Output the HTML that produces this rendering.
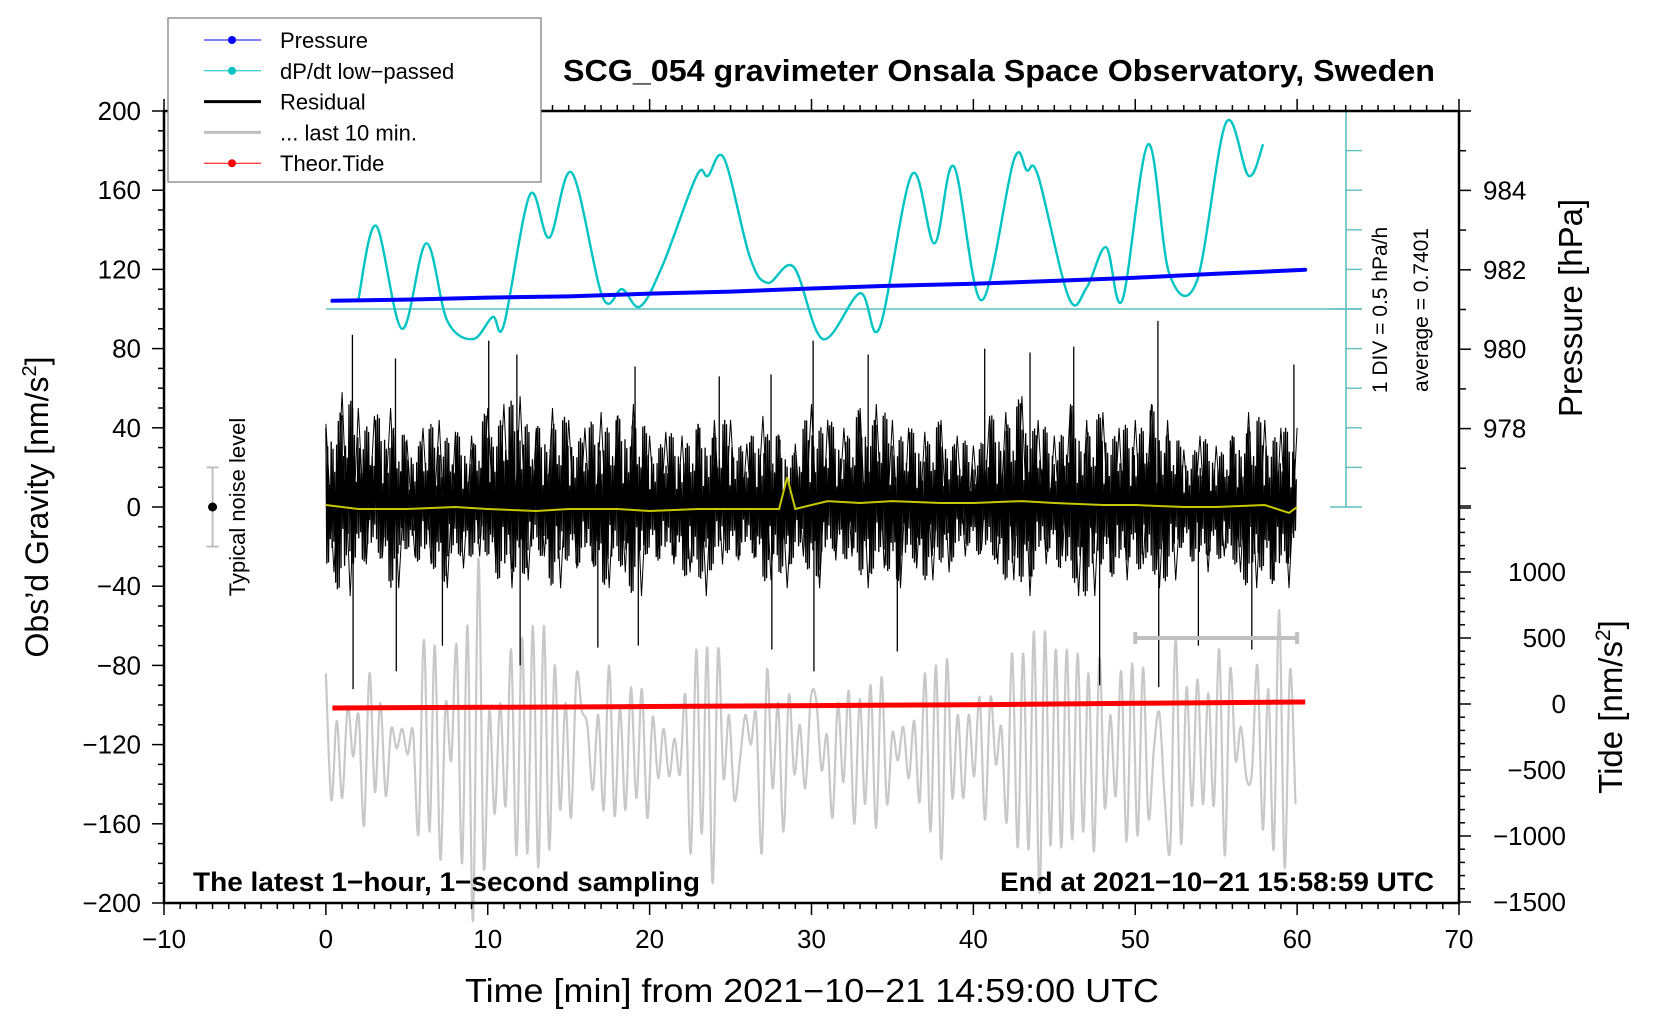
<!DOCTYPE html>
<html><head><meta charset="utf-8">
<style>
html,body{margin:0;padding:0;background:#fff;}
svg{display:block;font-family:"Liberation Sans",Arial,sans-serif;}
</style></head>
<body>
<svg id="chart" width="1660" height="1020" viewBox="0 0 1660 1020" xmlns="http://www.w3.org/2000/svg">
<g id="layer"></g>
</svg>
<script>
// ---- data ----
const cyanTimes = [2.0,3.1,4.7,6.2,7.5,9.1,10.3,11.0,12.6,13.8,15.2,17.1,18.3,19.4,20.8,22.9,23.6,24.6,26.2,27.3,28.9,30.7,33.0,34.2,36.2,37.6,38.8,40.5,42.5,43.3,44.0,45.9,47.0,48.2,49.2,50.8,52.1,53.8,55.6,57.0,57.9];
const cyanValues = [0.11,1.05,-0.25,0.83,-0.15,-0.38,-0.10,-0.20,1.44,0.90,1.72,0.15,0.25,0.03,0.55,1.68,1.68,1.90,0.65,0.33,0.53,-0.38,0.20,-0.24,1.70,0.83,1.80,0.11,1.88,1.75,1.68,0.14,0.27,0.78,0.11,2.08,0.45,0.35,2.35,1.68,2.08];
const pressureTimes = [0.4,5,10,15,20,25,30,35,40,45,50,55,60.5];
const pressureValues = [981.22,981.25,981.3,981.33,981.4,981.45,981.53,981.6,981.65,981.72,981.8,981.9,982.0];
const residualHi = [42,58,50,46,50,34,40,44,38,36,50,52,56,40,50,44,40,48,46,52,36,38,36,42,44,44,32,46,36,32,52,44,40,50,52,44,40,38,44,36,31,46,48,56,44,36,52,44,48,40,44,52,44,29,36,31,36,48,44,40,40];
const residualLo = [-33,-45,-29,-25,-41,-25,-29,-41,-31,-25,-29,-41,-37,-25,-41,-31,-29,-41,-33,-45,-25,-29,-33,-45,-29,-27,-25,-37,-41,-25,-41,-27,-25,-41,-31,-41,-31,-37,-33,-25,-22,-29,-37,-45,-29,-25,-45,-45,-33,-37,-29,-41,-37,-22,-33,-25,-33,-41,-37,-41,-25];
const spikeTimes = [1.64,1.68,4.3,4.35,7.2,10.06,11.8,12.0,16.8,19.1,19.3,24.3,27.5,27.55,30.1,30.15,33.5,35.3,40.7,43.5,46.2,47.8,51.4,51.45,53.9,57.2,59.8];
const spikeValues = [87,-92,75,-83,-70,84,77,-80,-71,71,-70,66,67,-72,84,-83,77,-73,80,78,81,-90,94,-91,-70,-72,72];
const yellowTimes = [0,2,5,8,10,13,15,18,20,23,25,28,28.5,29,30,31,33,35,38,40,43,45,48,50,53,55,58,59.5,60];
const yellowValues = [1,-1,-1,0,-1,-2,-1,-1,-2,-1,-1,-1,15,-1,1,3,2,3,2,2,3,2,1,1,0,0,1,-3,0];
const grayValues = [-84,-148,-108,-147,-101,-126,-105,-161,-84,-144,-99,-146,-112,-122,-112,-125,-113,-165,-67,-164,-70,-178,-99,-128,-70,-180,-60,-209,-26,-182,-103,-155,-99,-151,-72,-176,-66,-175,-60,-182,-60,-173,-80,-153,-99,-157,-85,-103,-110,-143,-105,-153,-80,-156,-101,-153,-91,-147,-92,-157,-106,-137,-112,-136,-117,-135,-95,-175,-72,-165,-71,-190,-72,-137,-105,-148,-128,-105,-120,-105,-175,-82,-142,-99,-164,-95,-135,-110,-142,-97,
 -97,-133,-115,-157,-99,-139,-93,-160,-97,-150,-90,-162,-86,-150,-114,-128,-111,-137,-108,-149,-84,-164,-80,-178,-77,-147,-105,-147,-105,-136,-96,-158,-96,-130,-111,-159,-74,-172,-74,-173,-63,-195,-63,-171,-72,-172,-72,-168,-74,-164,-84,-174,-76,-152,-105,-146,-83,-169,-79,-166,-81,-157,-122,-104,-148,-172,-67,-170,-91,-151,-87,-150,-94,-151,-72,-176,-82,-128,-111,-137,-134,-80,-163,-92,-173,-52,-182,-82,-150];
const tideTimes = [0.4,10,20,30,40,50,60.5];
const tideValues = [-30,-25,-19,-12,-5,5,15];
const xTicks = [-10,0,10,20,30,40,50,60,70];
const gTicks = [200,160,120,80,40,0,-40,-80,-120,-160,-200];
const pTicks = [984,982,980,978];
const tTicks = [1000,500,0,-500,-1000,-1500];

// ---- scales ----
const X0=164, X1=1459, Y0=111, Y1=903;
function sx(t){return X0+(t+10)*(X1-X0)/80;}
function sg(g){return 507-g*1.98;}
function sp(p){return 508-(p-976)*39.7;}
function st(v){return 704-v*0.132;}
function sc(v){return sg(100+v*40);}

const NS="http://www.w3.org/2000/svg";
const layer=document.getElementById('layer');
function mk(tag,attrs,parent){const e=document.createElementNS(NS,tag);for(const k in attrs)e.setAttribute(k,attrs[k]);(parent||layer).appendChild(e);return e;}
function txt(s,attrs){const e=mk('text',attrs);e.textContent=s;return e;}
function smooth(pts){let d='M'+pts[0][0]+','+pts[0][1];for(let i=0;i<pts.length-1;i++){const p0=pts[i-1]||pts[i],p1=pts[i],p2=pts[i+1],p3=pts[i+2]||p2;const c1x=p1[0]+(p2[0]-p0[0])/6,c1y=p1[1]+(p2[1]-p0[1])/6,c2x=p2[0]-(p3[0]-p1[0])/6,c2y=p2[1]-(p3[1]-p1[1])/6;d+=' C'+c1x.toFixed(1)+','+c1y.toFixed(1)+' '+c2x.toFixed(1)+','+c2y.toFixed(1)+' '+p2[0].toFixed(1)+','+p2[1].toFixed(1);}return d;}

// gray last 10 min
const gp=grayValues.map((v,i)=>[sx(i*59.9/(grayValues.length-1)),sg(v)]);
const grayLine=mk('path',{d:smooth(gp),fill:'none',stroke:'#c8c8c8','stroke-width':2.2});



// residual
const nRes=residualHi.length;
function envAt(arr,t){const i=Math.min(Math.floor(t),nRes-2);const f=t-i;return arr[i]*(1-f)+arr[i+1]*f;}
const fracs=[0.95,0.55,0.8,0.35,0.7,1.0,0.45,0.85,0.6,0.25];
const rg=mk('g',{});


let zz=[];
const step=0.055;
let k=0;
for(let t=0;t<=60.0001;t+=step,k++){
  const f=fracs[(k*7+Math.floor(k/3))%fracs.length];
  const v=(k%2===0)?envAt(residualHi,Math.min(t,60))*f:envAt(residualLo,Math.min(t,60))*f;
  zz.push(sx(t).toFixed(1)+','+sg(v).toFixed(1));
}
mk('polyline',{points:zz.join(' '),fill:'none',stroke:'#000','stroke-width':1.3},rg);
let zz2=[];
residualHi.forEach((v,i)=>{zz2.push(sx(i).toFixed(1)+','+sg(v).toFixed(1));if(i<nRes-1)zz2.push(sx(i+0.5).toFixed(1)+','+sg(residualLo[i]).toFixed(1));});
mk('polyline',{points:zz2.join(' '),fill:'none',stroke:'#000','stroke-width':1},rg);
spikeTimes.forEach((t,i)=>{const l=mk('line',{x1:sx(t),x2:sx(t),y1:sg(0),y2:sg(spikeValues[i]),stroke:'#000','stroke-width':1.3});

});

// yellow
const yl=mk('polyline',{points:yellowTimes.map((t,i)=>sx(t).toFixed(1)+','+sg(yellowValues[i]).toFixed(1)).join(' '),fill:'none',stroke:'#c8c800','stroke-width':2});



// tide red
const rl=mk('polyline',{points:tideTimes.map((t,i)=>sx(t).toFixed(1)+','+st(tideValues[i]).toFixed(1)).join(' '),fill:'none',stroke:'#ff0000','stroke-width':5});



// cyan baseline and axis
mk('line',{x1:sx(0),x2:1362,y1:sc(0),y2:sc(0),stroke:'#5fbfbf','stroke-width':1.6});
mk('line',{x1:1346,x2:1346,y1:Y0,y2:sg(0),stroke:'#5fbfbf','stroke-width':1.6});
for(let g=200;g>=0;g-=20){const w=(g===200||g===0||g===100)?16:0;mk('line',{x1:1346-w,x2:1362,y1:sg(g),y2:sg(g),stroke:'#5fbfbf','stroke-width':1.4});}
const cyl=mk('path',{d:smooth(cyanTimes.map((t,i)=>[sx(t),sc(cyanValues[i])])),fill:'none',stroke:'#00c4c4','stroke-width':2.4});



// pressure
const pl=mk('polyline',{points:pressureTimes.map((t,i)=>sx(t).toFixed(1)+','+sp(pressureValues[i]).toFixed(1)).join(' '),fill:'none',stroke:'#0000ff','stroke-width':4,'stroke-linecap':'round'});



// gray 10-min bar
mk('line',{x1:sx(50),x2:sx(60),y1:638,y2:638,stroke:'#c0c0c0','stroke-width':4});
mk('line',{x1:sx(50),x2:sx(50),y1:632,y2:644,stroke:'#c0c0c0','stroke-width':4});
mk('line',{x1:sx(60),x2:sx(60),y1:632,y2:644,stroke:'#c0c0c0','stroke-width':4});

// noise marker
mk('line',{x1:sx(-7),x2:sx(-7),y1:sg(20),y2:sg(-20),stroke:'#c0c0c0','stroke-width':2});
mk('line',{x1:sx(-7)-6,x2:sx(-7)+6,y1:sg(20),y2:sg(20),stroke:'#c0c0c0','stroke-width':2});
mk('line',{x1:sx(-7)-6,x2:sx(-7)+6,y1:sg(-20),y2:sg(-20),stroke:'#c0c0c0','stroke-width':2});
mk('circle',{cx:sx(-7),cy:sg(0),r:4.5,fill:'#000'});
txt('Typical noise level',{x:0,y:0,transform:'translate(245,507) rotate(-90)','text-anchor':'middle','font-size':22});

// frame
mk('rect',{x:X0,y:Y0,width:X1-X0,height:Y1-Y0,fill:'none',stroke:'#000','stroke-width':2.5});
for(let t=-10;t<=70;t++){const L=t%10===0?12:6;mk('line',{x1:sx(t),x2:sx(t),y1:Y1,y2:Y1+L,stroke:'#000','stroke-width':1.5});mk('line',{x1:sx(t),x2:sx(t),y1:Y0,y2:Y0-L,stroke:'#000','stroke-width':1.5});}
xTicks.forEach(t=>txt(String(t).replace('-','\u2212'),{x:sx(t),y:948,'text-anchor':'middle','font-size':26}));
for(let g=-200;g<=200;g+=10){const L=g%40===0?12:6;mk('line',{x1:X0-L,x2:X0,y1:sg(g),y2:sg(g),stroke:'#000','stroke-width':1.5});}
gTicks.forEach(g=>txt(String(g).replace('-','\u2212'),{x:141,y:sg(g)+9,'text-anchor':'end','font-size':26}));
for(let p=976;p<=986;p++){const L=p%2===0?12:7;mk('line',{x1:X1,x2:X1+L,y1:sp(p),y2:sp(p),stroke:'#000','stroke-width':1.5});}
pTicks.forEach(p=>txt(String(p),{x:1483,y:sp(p)+9,'font-size':26}));
for(let v=-1500;v<=1500;v+=100){const L=v%500===0?12:6;mk('line',{x1:X1,x2:X1+L,y1:st(v),y2:st(v),stroke:'#000','stroke-width':1.5});}
tTicks.forEach(v=>txt(String(v).replace('-','\u2212'),{x:1566,y:st(v)+9,'text-anchor':'end','font-size':26}));

// axis titles
const yt=txt('',{transform:'translate(48,507) rotate(-90)','text-anchor':'middle','font-size':32});
yt.innerHTML='Obs’d Gravity [nm/s<tspan dy="-12" font-size="20">2</tspan><tspan dy="12">]</tspan>';


const xt=txt('Time [min] from 2021\u221210\u221221 14:59:00 UTC',{x:812,y:1002,'text-anchor':'middle','font-size':33,textLength:694,lengthAdjust:'spacingAndGlyphs'});


const pt=txt('Pressure [hPa]',{transform:'translate(1582,308) rotate(-90)','text-anchor':'middle','font-size':33});


const tt=txt('',{transform:'translate(1622,707) rotate(-90)','text-anchor':'middle','font-size':33});
tt.innerHTML='Tide [nm/s<tspan dy="-12" font-size="21">2</tspan><tspan dy="12">]</tspan>';


txt('1 DIV = 0.5 hPa/h',{transform:'translate(1387,310) rotate(-90)','text-anchor':'middle','font-size':21});
txt('average = 0.7401',{transform:'translate(1428,310) rotate(-90)','text-anchor':'middle','font-size':21});

// title and notes
const ti=txt('SCG_054 gravimeter Onsala Space Observatory, Sweden',{x:999,y:81,'text-anchor':'middle','font-size':31,'font-weight':'bold',textLength:872,lengthAdjust:'spacingAndGlyphs'});


txt('The latest 1\u2212hour, 1\u2212second sampling',{x:193,y:891,'font-size':27,'font-weight':'bold',textLength:507,lengthAdjust:'spacingAndGlyphs'});
txt('End at 2021\u221210\u221221 15:58:59 UTC',{x:1434,y:891,'text-anchor':'end','font-size':27,'font-weight':'bold',textLength:434,lengthAdjust:'spacingAndGlyphs'});

// legend
const lg=mk('g',{});


mk('rect',{x:168,y:18,width:373,height:164,fill:'#fff',stroke:'#777','stroke-width':1.2},lg);
const legNames=['Pressure','dP/dt low\u2212passed','Residual','... last 10 min.','Theor.Tide'];
const legCols=['#0000ff','#00c4c4','#000','#c0c0c0','#ff0000'];
const legW=[1,1,3,3,1];
const legDot=[true,true,false,false,true];
legNames.forEach((n,i)=>{const y=40+i*30.8;
 const g=mk('g',{},lg);
 
 
 mk('line',{x1:204,x2:261,y1:y,y2:y,stroke:legCols[i],'stroke-width':legW[i]},g);
 if(legDot[i])mk('circle',{cx:232,cy:y,r:4,fill:legCols[i]},g);
 const t=mk('text',{x:280,y:y+8,'font-size':22},g);t.textContent=n;});
</script>
</body></html>
